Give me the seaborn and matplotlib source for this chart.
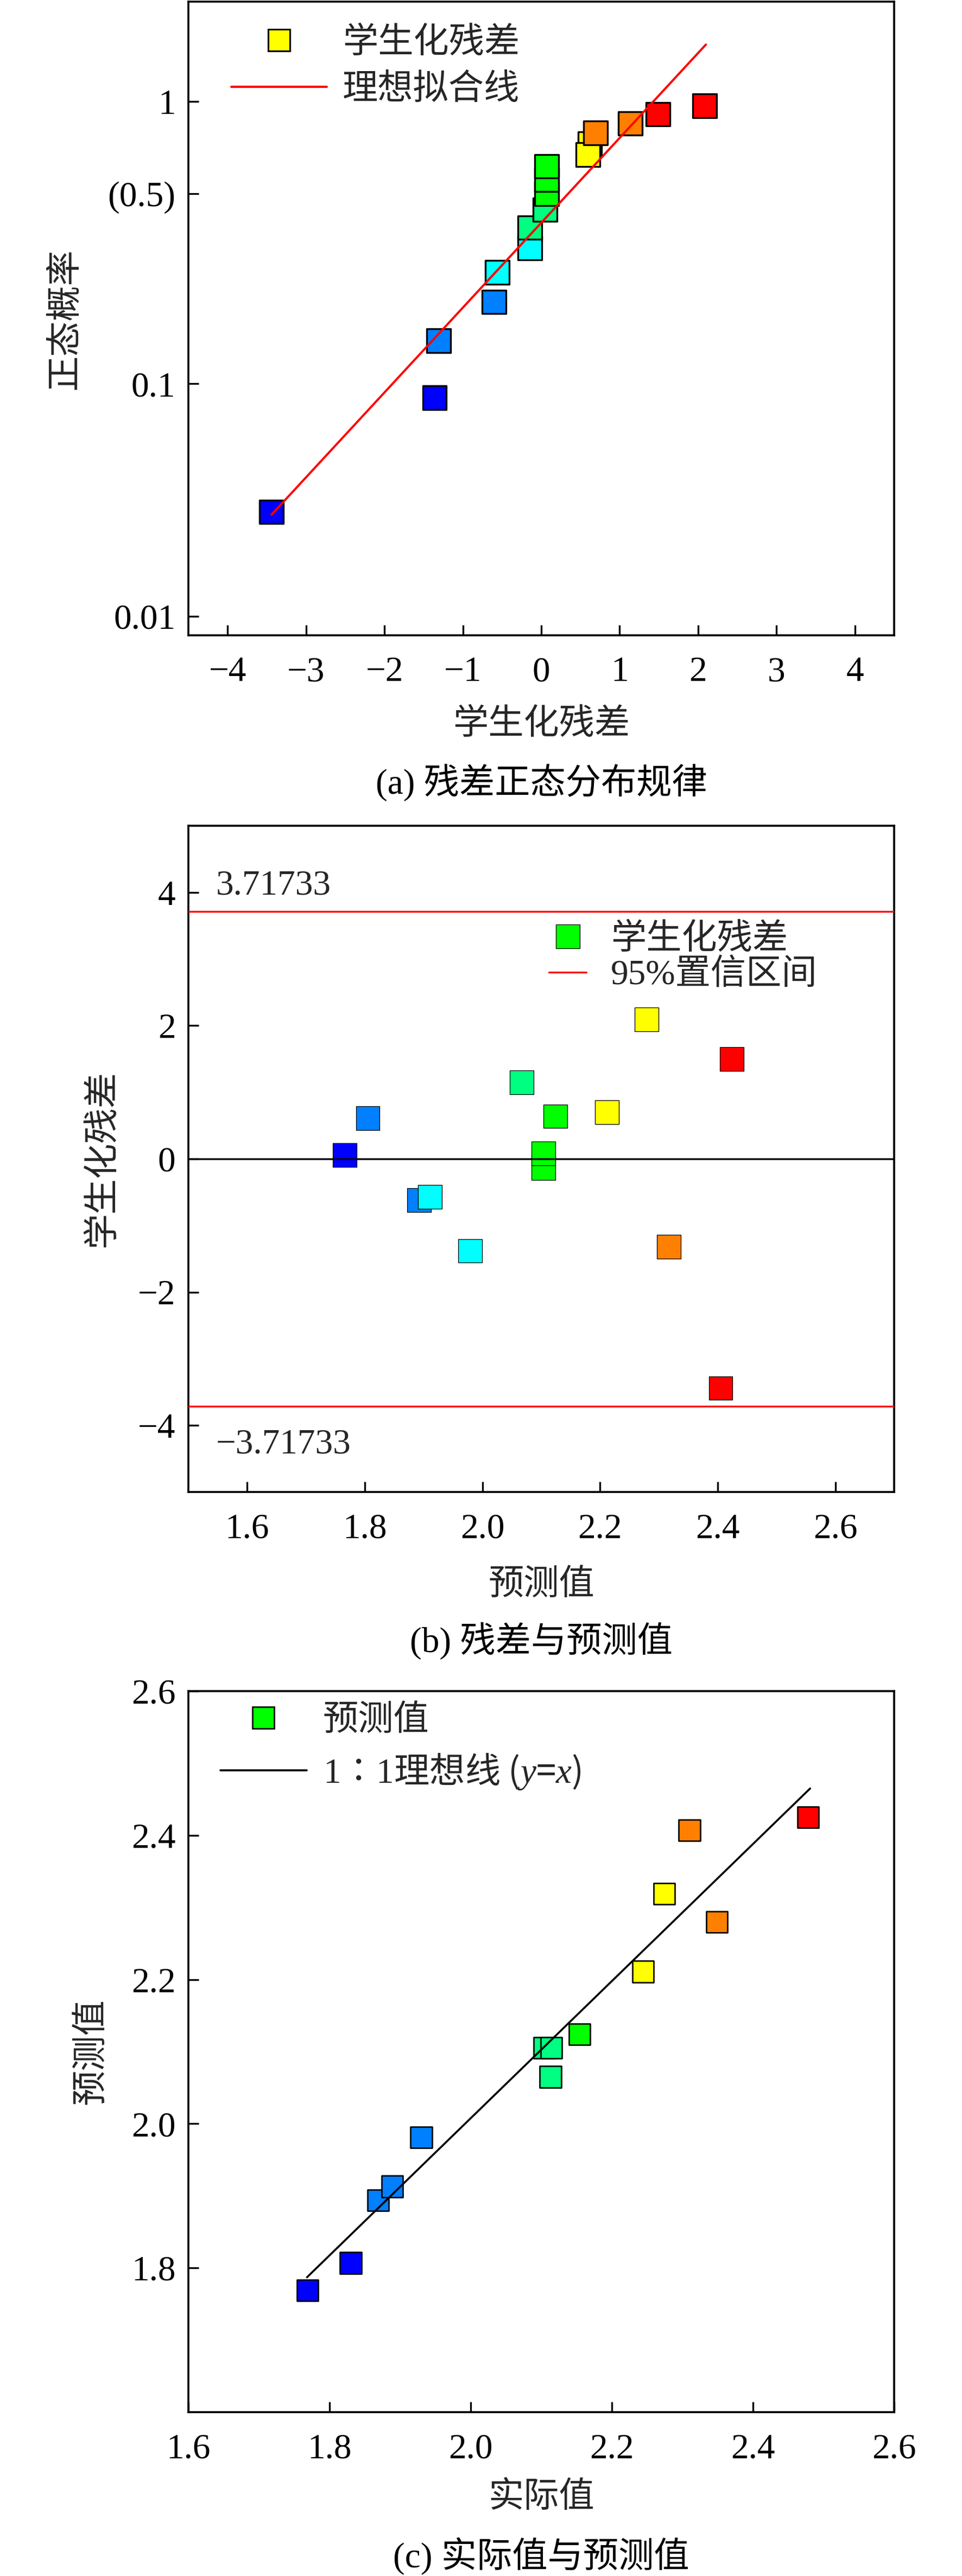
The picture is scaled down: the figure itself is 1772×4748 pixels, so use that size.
import math
import numpy as np
import pandas as pd
import matplotlib
matplotlib.use("Agg")
import matplotlib.pyplot as plt
import seaborn as sns
from matplotlib.lines import Line2D
from matplotlib.ticker import NullLocator, FixedLocator, FixedFormatter

# ---------------- data ----------------
# (a) normal probability plot of studentized residuals
resid_a = [0.62, -3.44, -1.36, -1.31, -0.60, -0.56, -0.145, -0.145, 0.048, 0.067, 0.067,
           0.067, 0.595, 0.69, 1.135, 1.49, 2.085]
prob_a = [0.735, 0.0294, 0.0882, 0.147, 0.206, 0.265, 0.324, 0.382, 0.441, 0.500, 0.559,
          0.618, 0.676, 0.794, 0.853, 0.912, 0.971]
colors_a = ['#FFFF00', '#0000FF', '#0000FF', '#0080FF', '#0080FF', '#00FFFF', '#00FFFF',
            '#00FF80', '#00FF80', '#00FF00', '#00FF00', '#00FF00', '#FFFF00', '#FF8000',
            '#FF8000', '#FF0000', '#FF0000']
fit_x_a = [-3.44, 2.10]
fit_p_a = [0.0286, 1.493]
yticks_a = [0.01, 0.1, 0.5, 1]
yticklabels_a = ['0.01', '0.1', '(0.5)', '1']
xticks_a = [-4, -3, -2, -1, 0, 1, 2, 3, 4]

# (b) studentized residual vs predicted value
pred_b = [1.766, 1.805, 1.892, 1.911, 1.979, 2.067, 2.124, 2.104, 2.104, 2.212, 2.279,
          2.317, 2.424, 2.405]
resid_b = [0.06, 0.61, -0.62, -0.57, -1.38, 1.15, 0.64, -0.14, 0.08, 0.70, 2.09,
           -1.32, 1.50, -3.44]
colors_b = ['#0000FF', '#0080FF', '#0080FF', '#00FFFF', '#00FFFF', '#00FF80', '#00FF00',
            '#00FF00', '#00FF00', '#FFFF00', '#FFFF00', '#FF8000', '#FF0000', '#FF0000']
ci_b = 3.71733
xticks_b = [1.6, 1.8, 2.0, 2.2, 2.4, 2.6]
yticks_b = [-4, -2, 0, 2, 4]

# (c) actual vs predicted
actual_c = [1.769, 1.830, 1.869, 1.889, 1.930, 2.104, 2.114, 2.113, 2.154, 2.244, 2.274,
            2.310, 2.349, 2.478]
pred_c = [1.769, 1.807, 1.894, 1.913, 1.981, 2.105, 2.105, 2.065, 2.124, 2.211, 2.319,
          2.407, 2.280, 2.425]
colors_c = ['#0000FF', '#0000FF', '#0080FF', '#0080FF', '#0080FF', '#00FF80', '#00FF80',
            '#00FF80', '#00FF00', '#FFFF00', '#FFFF00', '#FF8000', '#FF8000', '#FF0000']
line_x_c = [1.768, 2.481]
line_y_c = [1.787, 2.465]
xticks_c = [1.6, 1.8, 2.0, 2.2, 2.4, 2.6]
yticks_c = [1.8, 2.0, 2.2, 2.4, 2.6]

# ---------------- normal probability scale (values in percent) ----------------
_a = [-3.969683028665376e+01, 2.209460984245205e+02, -2.759285104469687e+02,
      1.383577518672690e+02, -3.066479806614716e+01, 2.506628277459239e+00]
_b = [-5.447609879822406e+01, 1.615858368580409e+02, -1.556989798598866e+02,
      6.680131188771972e+01, -1.328068155288572e+01]
_c = [-7.784894002430293e-03, -3.223964580411365e-01, -2.400758277161838e+00,
      -2.549732539343734e+00, 4.374664141464968e+00, 2.938163982698783e+00]
_d = [7.784695709041462e-03, 3.224671290700398e-01, 2.445134137142996e+00,
      3.754408661907416e+00]


def _ppf(p):
    p = np.atleast_1d(np.asarray(p, dtype=float))
    x = np.empty_like(p)
    plow = 0.02425
    lo = p < plow
    hi = p > 1 - plow
    mid = ~(lo | hi)
    if lo.any():
        q = np.sqrt(-2 * np.log(p[lo]))
        x[lo] = ((((((_c[0] * q + _c[1]) * q + _c[2]) * q + _c[3]) * q + _c[4]) * q + _c[5]) /
                 ((((_d[0] * q + _d[1]) * q + _d[2]) * q + _d[3]) * q + 1))
    if hi.any():
        q = np.sqrt(-2 * np.log(1 - p[hi]))
        x[hi] = -((((((_c[0] * q + _c[1]) * q + _c[2]) * q + _c[3]) * q + _c[4]) * q + _c[5]) /
                  ((((_d[0] * q + _d[1]) * q + _d[2]) * q + _d[3]) * q + 1))
    if mid.any():
        q = p[mid] - 0.5
        r = q * q
        x[mid] = ((((((_a[0] * r + _a[1]) * r + _a[2]) * r + _a[3]) * r + _a[4]) * r + _a[5]) * q /
                  (((((_b[0] * r + _b[1]) * r + _b[2]) * r + _b[3]) * r + _b[4]) * r + 1))
    return x


_erfc = np.vectorize(math.erfc, otypes=[float])


def prob_fwd(v):
    v = np.asarray(v, dtype=float)
    shape = v.shape
    p = np.clip(v / 100.0, 1e-15, 1 - 1e-15)
    return _ppf(p).reshape(shape)


def prob_inv(z):
    z = np.asarray(z, dtype=float)
    return 100.0 * 0.5 * _erfc(-z / np.sqrt(2.0))


# ---------------- style ----------------
sns.set_theme(style="white")
plt.rcParams['font.family'] = ['Liberation Serif', 'Noto Sans CJK SC']
plt.rcParams['mathtext.fontset'] = 'custom'
plt.rcParams['mathtext.rm'] = 'Liberation Serif'
plt.rcParams['mathtext.it'] = 'Liberation Serif:italic'
plt.rcParams['mathtext.bf'] = 'Liberation Serif:bold'
plt.rcParams['axes.unicode_minus'] = True

FS = 47
W, H = 1772, 4748
fig = plt.figure(figsize=(W / 100, H / 100), dpi=100, facecolor='white')


def add_axes_px(left, top, right, bottom):
    return fig.add_axes([left / W, 1 - bottom / H, (right - left) / W, (bottom - top) / H])


def style_axes(ax):
    for sp in ax.spines.values():
        sp.set_color('black')
        sp.set_linewidth(2.6)
        sp.set_visible(True)
    ax.tick_params(axis='both', which='major', direction='in', length=13.5, width=2.4,
                   color='black', labelsize=FS, labelcolor='black',
                   bottom=True, left=True, top=False, right=False)
    ax.tick_params(axis='x', pad=28)
    ax.tick_params(axis='y', pad=17)
    ax.tick_params(axis='both', which='minor', bottom=False, left=False, top=False, right=False)
    ax.grid(False)
    ax.set_facecolor('white')


def caption(y_px, text):
    fig.text(997 / W, 1 - y_px / H, text, ha='center', va='center', fontsize=FS, color='black')


# ================= (a) =================
ax_a = add_axes_px(347, 3, 1647, 1171)
df_a = pd.DataFrame({'resid': resid_a, 'prob': prob_a, 'color': colors_a})
sns.scatterplot(data=df_a, x='resid', y='prob', hue='color',
                palette={c: c for c in colors_a}, marker='s', s=990,
                edgecolor='black', linewidth=2.4, legend=False, ax=ax_a, zorder=2)
ax_a.plot(fit_x_a, fit_p_a, color='#FF0000', lw=2.9, zorder=3)
ax_a.set_yscale('function', functions=(prob_fwd, prob_inv))
ax_a.set_xlim(-4.5, 4.5)
ax_a.set_ylim(0.00813, 1.99)
ax_a.yaxis.set_major_locator(FixedLocator(yticks_a))
ax_a.yaxis.set_major_formatter(FixedFormatter(yticklabels_a))
ax_a.yaxis.set_minor_locator(NullLocator())
ax_a.set_xticks(xticks_a)
style_axes(ax_a)
ax_a.set_xlabel('学生化残差', fontsize=FS, va='center')
ax_a.set_ylabel('正态概率', fontsize=FS, va='center', ha='center')
ax_a.xaxis.set_label_coords(0.5, (1171 - 1337) / 1168)
ax_a.yaxis.set_label_coords((121 - 347) / 1300, 0.5)
h_a = [Line2D([], [], marker='s', ls='none', markerfacecolor='#FFFF00', markeredgecolor='black',
              markeredgewidth=2.2, markersize=29.5),
       Line2D([], [], color='#FF0000', lw=2.9)]
ax_a.legend(h_a, ['学生化残差', '理想拟合线'], loc='upper left',
            bbox_to_anchor=((426 - 347) / 1300, (1171 - 50) / 1168), frameon=False,
            fontsize=FS, handlelength=2.7, handletextpad=0.44, labelspacing=0.4,
            borderpad=0, borderaxespad=0)
caption(1442, '(a) 残差正态分布规律')

# ================= (b) =================
ax_b = add_axes_px(347, 1522, 1647, 2750)
df_b = pd.DataFrame({'pred': pred_b, 'resid': resid_b, 'color': colors_b})
sns.scatterplot(data=df_b, x='pred', y='resid', hue='color',
                palette={c: c for c in colors_b}, marker='s', s=995,
                edgecolor='black', linewidth=0.9, legend=False, ax=ax_b, zorder=2)
ax_b.axhline(0, color='black', lw=2.4, zorder=3)
ax_b.axhline(ci_b, color='#FF0000', lw=2.4, zorder=3)
ax_b.axhline(-ci_b, color='#FF0000', lw=2.4, zorder=3)
ax_b.text(1.547, 3.966, f'{ci_b:.5f}', fontsize=FS, ha='left', va='baseline')
ax_b.text(1.547, -4.42, f'\u2212{ci_b:.5f}', fontsize=FS, ha='left', va='baseline')
ax_b.set_xlim(1.5, 2.7)
ax_b.set_ylim(-5, 5)
ax_b.set_xticks(xticks_b)
ax_b.set_yticks(yticks_b)
style_axes(ax_b)
ax_b.set_xlabel('预测值', fontsize=FS, va='center')
ax_b.set_ylabel('学生化残差', fontsize=FS, va='center', ha='center')
ax_b.xaxis.set_label_coords(0.5, (2750 - 2923) / 1228)
ax_b.yaxis.set_label_coords((190 - 347) / 1300, 0.5)
h_b = [Line2D([], [], marker='s', ls='none', markerfacecolor='#00FF00', markeredgecolor='black',
              markeredgewidth=0.9, markersize=31),
       Line2D([], [], color='#FF0000', lw=2.4)]
ax_b.legend(h_b, ['学生化残差', '95%置信区间'], loc='upper left',
            bbox_to_anchor=((1011 - 347) / 1300, (2750 - 1702) / 1228), frameon=False,
            fontsize=FS, handlelength=1.06, handletextpad=0.69, labelspacing=0.1,
            borderpad=0, borderaxespad=0)
caption(3024, '(b) 残差与预测值')

# ================= (c) =================
ax_c = add_axes_px(347, 3117, 1647, 4446)
df_c = pd.DataFrame({'actual': actual_c, 'pred': pred_c, 'color': colors_c})
sns.scatterplot(data=df_c, x='actual', y='pred', hue='color',
                palette={c: c for c in colors_c}, marker='s', s=800,
                edgecolor='black', linewidth=1.9, legend=False, ax=ax_c, zorder=2)
ax_c.plot(line_x_c, line_y_c, color='black', lw=2.6, zorder=3)
ax_c.set_xlim(1.6, 2.6)
ax_c.set_ylim(1.6, 2.6)
ax_c.set_xticks(xticks_c)
ax_c.set_yticks(yticks_c)
style_axes(ax_c)
ax_c.set_xlabel('实际值', fontsize=FS, va='center')
ax_c.set_ylabel('预测值', fontsize=FS, va='center', ha='center')
ax_c.xaxis.set_label_coords(0.5, (4446 - 4605) / 1329)
ax_c.yaxis.set_label_coords((169 - 347) / 1300, 0.5)
h_c = [Line2D([], [], marker='s', ls='none', markerfacecolor='#00FF00', markeredgecolor='black',
              markeredgewidth=1.9, markersize=28.4),
       Line2D([], [], color='black', lw=2.6)]
leg_c = ax_c.legend(h_c, ['预测值', '$1$\u2236$1$理想线 ($y$=$x$)'], loc='upper left',
                    bbox_to_anchor=((406 - 347) / 1300, (4446 - 3143) / 1329), frameon=False,
                    fontsize=FS, handlelength=2.43, handletextpad=0.46, labelspacing=0.4,
                    borderpad=0, borderaxespad=0)
leg_c.get_texts()[1].set_fontfamily(['Noto Sans CJK SC'])
caption(4711, '(c) 实际值与预测值')

fig.savefig('out.png', dpi=100, facecolor='white')
